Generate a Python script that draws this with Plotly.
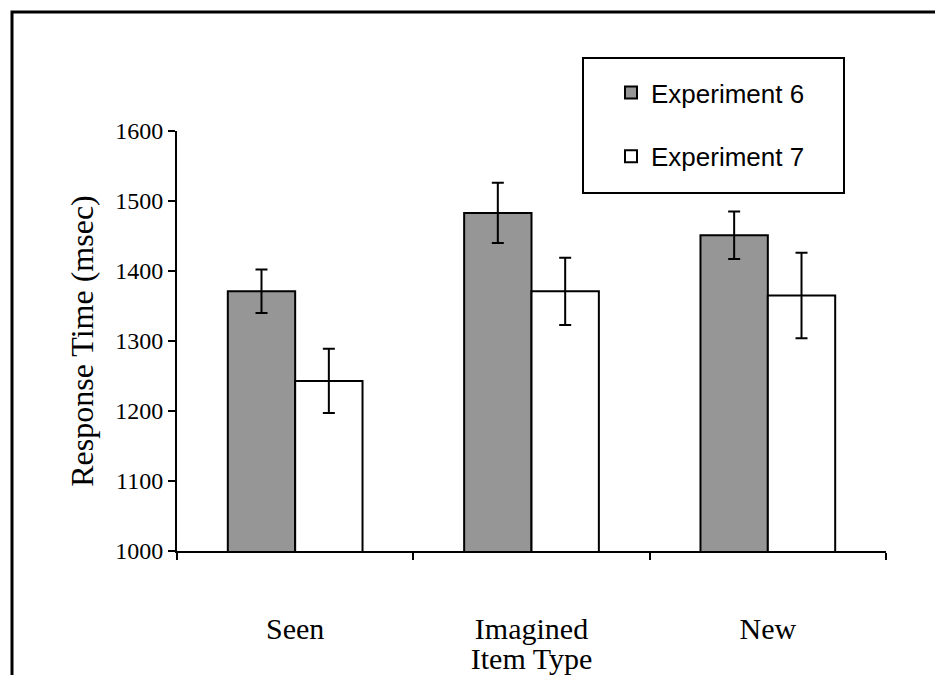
import plotly.graph_objects as go

categories = ["Seen", "Imagined", "New"]
exp6_values = [1371, 1483, 1451]
exp6_errors = [31, 43, 34]
exp7_values = [1243, 1371, 1365]
exp7_errors = [46, 48, 61]
y_ticks = [1000, 1100, 1200, 1300, 1400, 1500, 1600]

W, H = 935, 675
L, R, T, B = 177, 49, 131, 124
pw, ph = W - L - R, H - T - B

def px_x(x):
    return (x - L) / pw

def px_y(y):
    return (H - B - y) / ph

fig = go.Figure()
fig.add_trace(go.Bar(
    x=categories, y=exp6_values, name="Experiment 6", legendgroup="a",
    marker=dict(color="#969696", line=dict(color="black", width=2)),
    error_y=dict(type="data", array=exp6_errors, visible=True,
                 color="black", thickness=2, width=6),
))
fig.add_trace(go.Bar(
    x=categories, y=exp7_values, name="Experiment 7", legendgroup="b",
    marker=dict(color="white", line=dict(color="black", width=2)),
    error_y=dict(type="data", array=exp7_errors, visible=True,
                 color="black", thickness=2, width=6),
))

fig.update_layout(
    width=W, height=H,
    margin=dict(l=L, r=R, t=T, b=B, autoexpand=False),
    paper_bgcolor="white", plot_bgcolor="white",
    barmode="group", bargap=0.43, bargroupgap=0,
    font=dict(family="Liberation Serif", color="black"),
    showlegend=True,
    legend=dict(
        x=px_x(611), y=px_y(69), xanchor="left", yanchor="top",
        font=dict(family="Liberation Sans", size=26, color="black"),
        traceorder="grouped", tracegroupgap=27,
        bgcolor="rgba(0,0,0,0)", borderwidth=0,
    ),
    xaxis=dict(
        type="category", tickson="boundaries",
        ticks="outside", ticklen=7, tickwidth=1.5, tickcolor="black",
        showline=True, linecolor="black", linewidth=1.5,
        showgrid=False, zeroline=False,
        tickfont=dict(family="Liberation Serif", size=30, color="black"),
        ticklabelstandoff=50,
        title=dict(text="Item Type", standoff=14,
                   font=dict(family="Liberation Serif", size=30, color="black")),
    ),
    yaxis=dict(
        range=[1000, 1600], tickvals=y_ticks,
        ticks="outside", ticklen=7, tickwidth=1.5, tickcolor="black",
        showline=True, linecolor="black", linewidth=2,
        showgrid=False, zeroline=False,
        tickfont=dict(family="Liberation Serif", size=24, color="black"),
        title=dict(text="Response Time (msec)", standoff=12,
                   font=dict(family="Liberation Serif", size=32, color="black")),
    ),
    shapes=[
        dict(type="rect", xref="paper", yref="paper",
             x0=px_x(583), x1=px_x(844), y0=px_y(193), y1=px_y(58),
             line=dict(color="black", width=2), fillcolor="rgba(0,0,0,0)"),
        dict(type="rect", xref="paper", yref="paper",
             x0=px_x(12), x1=px_x(960), y0=px_y(700), y1=px_y(12),
             line=dict(color="black", width=3), fillcolor="rgba(0,0,0,0)"),
    ],
)

fig.write_html("out.html")
